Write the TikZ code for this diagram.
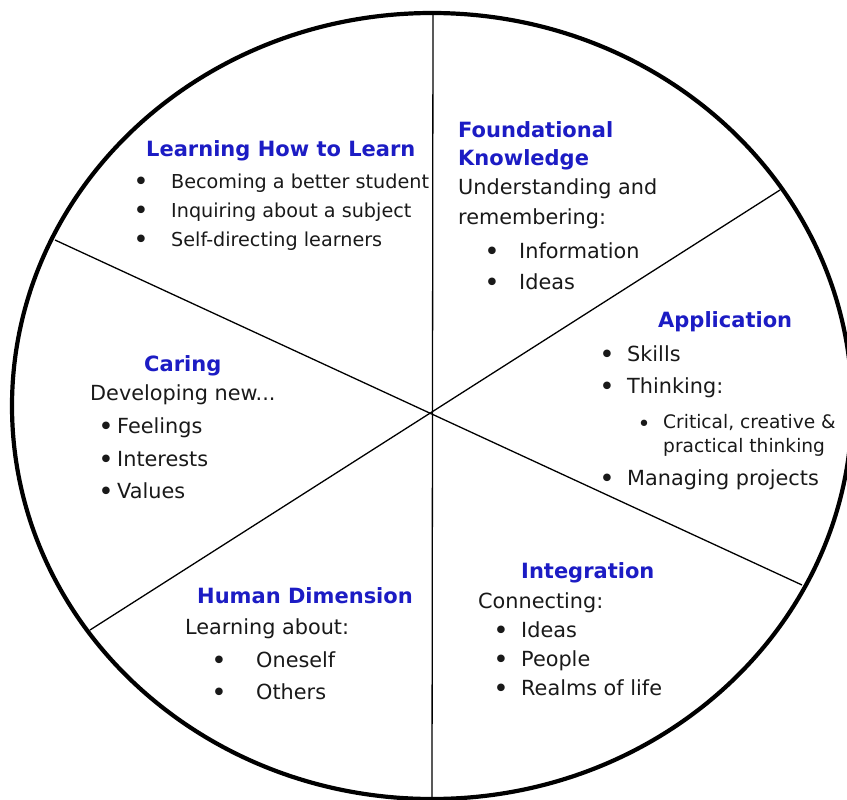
\documentclass[tikz,border=0pt]{standalone}
\usepackage{fontspec}
\setmainfont{DejaVu Sans}
\definecolor{ttl}{RGB}{28,28,196}
\definecolor{bod}{RGB}{25,25,25}
\begin{document}
\begin{tikzpicture}[x=1pt,y=-1pt,
  ttlnode/.style={anchor=base west, inner sep=0pt, text=ttl, font=\fontsize{21}{25}\selectfont\bfseries},
  bodnode/.style={anchor=base west, inner sep=0pt, text=bod, font=\fontsize{20.8}{25}\selectfont},
  smallbod/.style={bodnode, font=\fontsize{19.2}{23}\selectfont},
  subbod/.style={bodnode, font=\fontsize{18.6}{22}\selectfont},
  bulnode/.style={anchor=base, inner sep=0pt, text=bod, yshift=-2pt, font=\fontsize{26}{28}\selectfont},
  subbul/.style={bulnode, yshift=-1pt, font=\fontsize{22}{24}\selectfont},
  rim/.style={line width=4.2pt, draw=black},
  spoke/.style={line width=1.3pt, draw=black}]
\useasboundingbox (0,0) rectangle (847,800);
% wheel
\coordinate (c) at (432,406);
\draw[rim] (c) ellipse [x radius=420, y radius=393];
\coordinate (top) at (433,13);
\coordinate (bot) at (432,800);
\coordinate (ul) at (55,240);
\coordinate (lr) at (802,585);
\coordinate (ur) at (780,190);
\coordinate (ll) at (90,630);
\draw[spoke] (top) -- (bot);
\draw[spoke] (ul) -- (lr);
\draw[spoke] (ur) -- (ll);
% Learning How to Learn
\node[ttlnode] (lhl) at (146,157) {Learning How to Learn};
\node[bulnode] (lhlb1) at (141,188) {•};
\node[smallbod] (lhl1) at (171,188) {Becoming a better student};
\node[bulnode] (lhlb2) at (141,217) {•};
\node[smallbod] (lhl2) at (171,217) {Inquiring about a subject};
\node[bulnode] (lhlb3) at (141,246) {•};
\node[smallbod] (lhl3) at (171,246) {Self-directing learners};
% Foundational Knowledge
\node[ttlnode] (fk1) at (458,137) {Foundational};
\node[ttlnode] (fk2) at (458,165) {Knowledge};
\node[bodnode] (fk3) at (458,194) {Understanding and};
\node[bodnode] (fk4) at (458,224) {remembering:};
\node[bulnode] (fkb1) at (492,258) {•};
\node[bodnode] (fk5) at (519,258) {Information};
\node[bulnode] (fkb2) at (492,289) {•};
\node[bodnode] (fk6) at (519,289) {Ideas};
% Application
\node[ttlnode] (ap) at (658,327) {Application};
\node[bulnode] (apb1) at (607,361) {•};
\node[bodnode] (ap1) at (627,361) {Skills};
\node[bulnode] (apb2) at (607,393) {•};
\node[bodnode] (ap2) at (627,393) {Thinking:};
\node[subbul] (apb3) at (644,428) {•};
\node[subbod] (ap3) at (663,428) {Critical, creative \&};
\node[subbod] (ap4) at (663,452) {practical thinking};
\node[bulnode] (apb4) at (607,485) {•};
\node[bodnode] (ap5) at (627,485) {Managing projects};
% Caring
\node[ttlnode] (ca) at (144,371) {Caring};
\node[bodnode] (ca1) at (90,400) {Developing new...};
\node[bulnode] (cab1) at (106,433) {•};
\node[bodnode] (ca2) at (117,433) {Feelings};
\node[bulnode] (cab2) at (106,466) {•};
\node[bodnode] (ca3) at (117,466) {Interests};
\node[bulnode] (cab3) at (106,498) {•};
\node[bodnode] (ca4) at (117,498) {Values};
% Human Dimension
\node[ttlnode] (hd) at (197,603) {Human Dimension};
\node[bodnode] (hd1) at (185,634) {Learning about:};
\node[bulnode] (hdb1) at (219,667) {•};
\node[bodnode] (hd2) at (256,667) {Oneself};
\node[bulnode] (hdb2) at (219,699) {•};
\node[bodnode] (hd3) at (256,699) {Others};
% Integration
\node[ttlnode] (in) at (521,578) {Integration};
\node[bodnode] (in1) at (478,608) {Connecting:};
\node[bulnode] (inb1) at (501,637) {•};
\node[bodnode] (in2) at (521,637) {Ideas};
\node[bulnode] (inb2) at (501,666) {•};
\node[bodnode] (in3) at (521,666) {People};
\node[bulnode] (inb3) at (501,695) {•};
\node[bodnode] (in4) at (521,695) {Realms of life};
\end{tikzpicture}
\end{document}
